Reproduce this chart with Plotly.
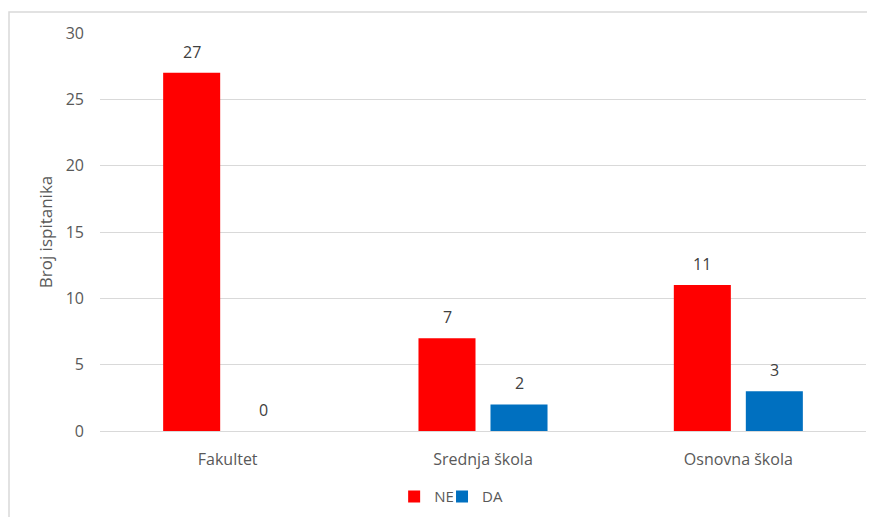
import plotly.graph_objects as go

categories = ["Fakultet", "Srednja škola", "Osnovna škola"]
ne_values = [27, 7, 11]
da_values = [0, 2, 3]
y_ticks = [0, 5, 10, 15, 20, 25, 30]

FONT = "Open Sans"
fig = go.Figure()
fig.add_trace(go.Bar(name="NE", x=categories, y=ne_values, marker_color="#FF0000",
                     marker_line_width=0, legend="legend"))
fig.add_trace(go.Bar(name="DA", x=categories, y=da_values, marker_color="#0070C0",
                     marker_line_width=0, legend="legend2"))

annotations = []
for vals, shift in ((ne_values, -36), (da_values, 36)):
    for c, v in zip(categories, vals):
        annotations.append(dict(x=c, y=v, xref="x", yref="y", text=str(v), showarrow=False,
                                xshift=shift, yshift=21, font=dict(family=FONT, size=16, color="#404040")))

legend_common = dict(orientation="h", xanchor="left", y=-0.165, yanchor="middle",
                     font=dict(family=FONT, size=15, color="#595959"), bgcolor="rgba(0,0,0,0)")
fig.update_layout(
    width=867, height=509,
    margin=dict(l=92, r=9, t=25, b=86, autoexpand=False),
    paper_bgcolor="white", plot_bgcolor="white",
    barmode="group", bargap=0.436, bargroupgap=0.208,
    font=dict(family=FONT, size=16, color="#595959"),
    showlegend=True,
    legend=dict(x=0.384, **legend_common),
    legend2=dict(x=0.4465, **legend_common),
    annotations=annotations,
    shapes=[dict(type="rect", xref="paper", yref="paper", x0=-0.1188, x1=1.05, y0=-0.4, y1=1.0528,
                 line=dict(color="#D9D9D9", width=1.5), layer="below")],
)
fig.update_yaxes(range=[0, 30], tickvals=y_ticks, showgrid=True, gridcolor="#D9D9D9", gridwidth=1,
                 zeroline=False, showline=False, ticks="", ticklabelstandoff=15, automargin=False,
                 tickfont=dict(family=FONT, size=16, color="#595959"),
                 title=dict(text="Broj ispitanika", standoff=8,
                            font=dict(family=FONT, size=17, color="#595959")))
fig.update_xaxes(showline=True, linecolor="#D9D9D9", linewidth=1, ticks="", ticklabelstandoff=14,
                 automargin=False, tickfont=dict(family=FONT, size=16, color="#595959"))

fig.write_html("out.html")
